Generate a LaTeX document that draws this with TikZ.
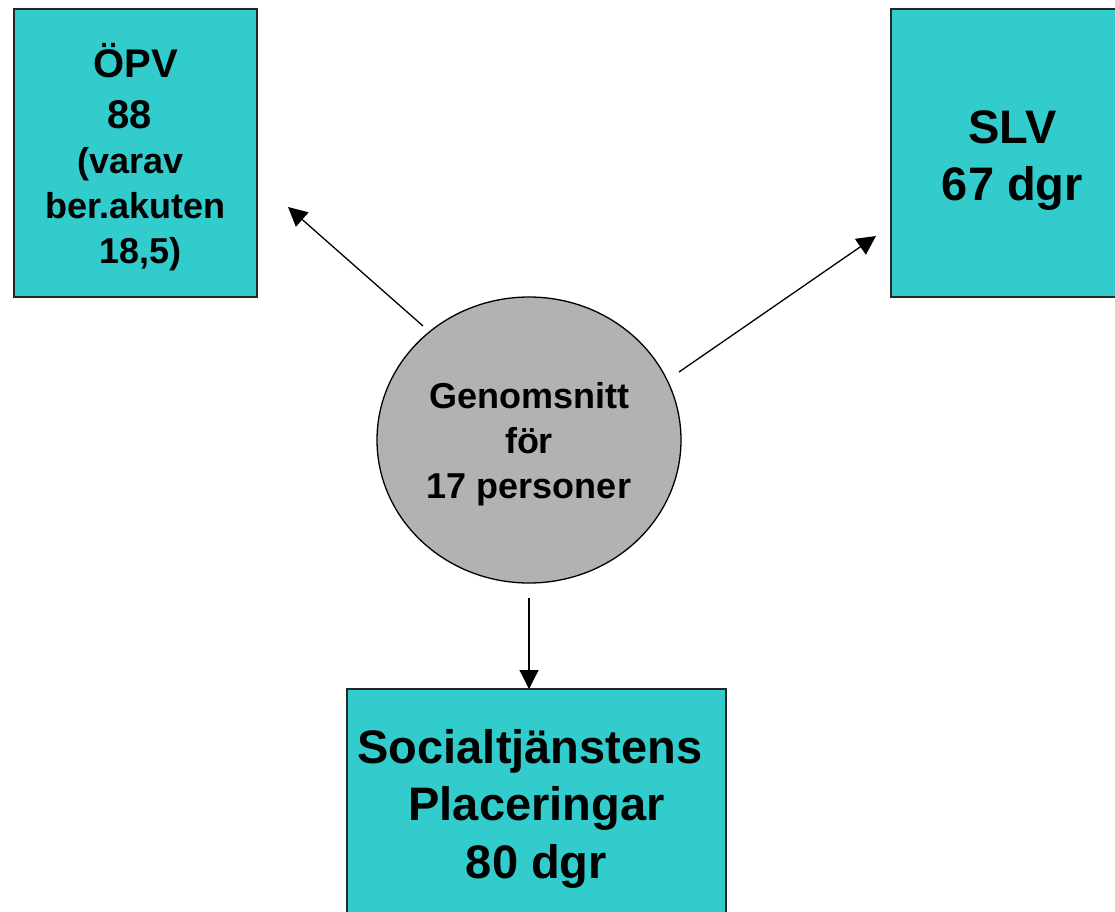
\documentclass[tikz,border=0pt]{standalone}
\usepackage{fontspec}
\setmainfont{Liberation Sans}
\usetikzlibrary{arrows.meta,shapes.geometric}
\definecolor{tealbox}{HTML}{33CCCC}
\definecolor{grayell}{HTML}{B2B2B2}
\tikzset{
  box/.style={draw=black!85, line width=1.4pt, fill=tealbox, inner sep=0pt},
  ell/.style={ellipse, draw=black, line width=1.3pt, fill=grayell, inner sep=0pt},
  lbl/.style={align=center, inner sep=0pt, anchor=base},
  arr/.style={line width=1.3pt, -{Triangle[length=19pt,width=19pt]}},
}
\begin{document}
\begin{tikzpicture}[x=1pt,y=-1pt]
\clip (0,0) rectangle (1115,911);
\fill[white] (0,0) rectangle (1115,911);
% shapes
\node[box, minimum width=243pt, minimum height=288pt] (opv) at (135.5,153) {};
\node[box, minimum width=243pt, minimum height=288pt] (slv) at (1012.5,153) {};
\node[box, minimum width=379pt, minimum height=300pt] (soc) at (536.5,839) {};
\node[ell, minimum width=304pt, minimum height=286pt] (circ) at (529,440) {};
% texts (anchored at the baseline of the last line)
\node[lbl, font=\fontsize{36}{45}\selectfont\bfseries] (opvtxt) at (135.5,263)
  {{\fontsize{40}{45}\selectfont ÖPV}\\[6pt]{\fontsize{40}{45}\selectfont 88\rule{0.278em}{0pt}}\\(varav\rule{0.278em}{0pt}\\ber.akuten\\\rule{0.278em}{0pt}18,5)};
\node[lbl, font=\fontsize{47}{57}\selectfont\bfseries] (slvtxt) at (1012.5,200)
  {SLV\\67 dgr};
\node[lbl, font=\fontsize{47}{57.5}\selectfont\bfseries] (soctxt) at (536.5,878)
  {Socialtjänstens\rule{0.278em}{0pt}\\Placeringar\\80 dgr};
\node[lbl, font=\fontsize{36}{45}\selectfont\bfseries] (circtxt) at (529,498)
  {Genomsnitt\\för\\17 personer};
% connectors
\coordinate (a1s) at (423,326);
\coordinate (a1e) at (288,207);
\coordinate (a2s) at (679,372);
\coordinate (a2e) at (876,236);
\coordinate (a3s) at (529,598);
\coordinate (a3e) at (529,689);
\draw[arr] (a1s) -- (a1e);
\draw[arr] (a2s) -- (a2e);
\draw[arr] (a3s) -- (a3e);
\end{tikzpicture}
\end{document}
